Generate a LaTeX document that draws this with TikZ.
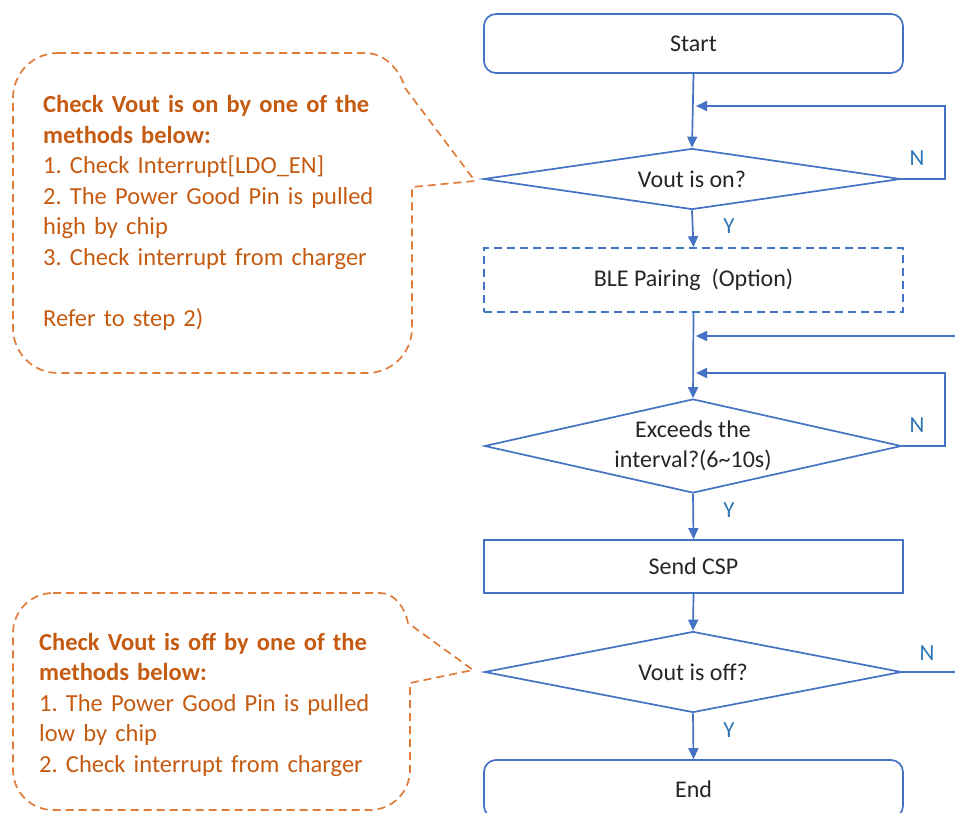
\documentclass[tikz,border=0pt]{standalone}
\usepackage{fontspec}
\setmainfont{Carlito}
\frenchspacing
\usetikzlibrary{arrows.meta,shapes.geometric}
\definecolor{lineblue}{HTML}{4472C4}
\definecolor{ynblue}{HTML}{2E75B6}
\definecolor{ortext}{HTML}{C55A11}
\definecolor{orline}{HTML}{E07B39}
\definecolor{txt}{HTML}{262626}
\begin{document}
\begin{tikzpicture}[x=1pt,y=-1pt,
  flowtext/.style={font=\fontsize{24}{30}\selectfont, text=txt},
  procbox/.style={draw=lineblue, line width=1.7pt, minimum width=419pt, inner sep=0pt, flowtext},
  termbox/.style={procbox, rounded corners=12pt},
  optbox/.style={procbox, dash pattern=on 8pt off 5pt},
  decision/.style={draw=lineblue, line width=1.7pt, diamond, inner sep=0pt, minimum width=417pt},
  ynlabel/.style={font=\fontsize{23}{28}\selectfont, text=ynblue, inner sep=0pt},
  flow/.style={draw=lineblue, line width=1.7pt, -{Triangle[length=11pt,width=10pt]}},
  plainline/.style={draw=lineblue, line width=1.7pt},
  callout/.style={draw=orline, line width=1.7pt, dash pattern=on 8pt off 5pt},
  notetext/.style={font=\fontsize{24.5}{30.5}\selectfont, text=ortext, text width=370pt, align=left, inner sep=0pt, anchor=base west}
]
\useasboundingbox (0,0) rectangle (955,813);
\clip (0,0) rectangle (955,813);

% flow nodes
\node[termbox, minimum height=59pt] (start) at (693.5,43.5) {Start};
\node[decision, minimum height=61pt] (d1) at (692,179) {};
\node[flowtext] (d1t) at (d1.center) {Vout is on?};
\node[optbox, minimum height=64pt] (ble) at (693.5,280) {BLE Pairing~ (Option)};
\node[decision, minimum height=94pt] (d2) at (693,446) {};
\node[flowtext, align=center, inner sep=0pt] (d2t) at (d2.center) {Exceeds the\\interval?(6\textasciitilde10s)};
\node[procbox, minimum height=53pt] (csp) at (693.5,566.5) {Send CSP};
\node[decision, minimum height=81pt] (d3) at (693,672) {};
\node[flowtext] (d3t) at (d3.center) {Vout is off?};
\node[termbox, minimum height=58pt] (end) at (693.5,789) {End};

% labels
\node[ynlabel] (n1) at (917,158) {N};
\node[ynlabel] (y1) at (729,226) {Y};
\node[ynlabel] (n2) at (917,425) {N};
\node[ynlabel] (y2) at (729,510) {Y};
\node[ynlabel] (n3) at (927,653) {N};
\node[ynlabel] (y3) at (729,730) {Y};

% helper coordinates
\coordinate (l1r) at (945,179);
\coordinate (l1t) at (945,106);
\coordinate (l1e) at (696,106);
\coordinate (in2) at (960,336);
\coordinate (in2e) at (696,336);
\coordinate (l2r) at (945,446);
\coordinate (l2t) at (945,373);
\coordinate (l2e) at (696,373);
\coordinate (out3) at (960,672);

% connectors
\draw[flow] (start.south) -- (d1.north);
\draw[flow] (d1.east) -- (l1r) -- (l1t) -- (l1e);
\draw[flow] (d1.south) -- (ble.north);
\draw[flow] (ble.south) -- (d2.north);
\draw[flow] (in2) -- (in2e);
\draw[flow] (d2.east) -- (l2r) -- (l2t) -- (l2e);
\draw[flow] (d2.south) -- (csp.north);
\draw[flow] (csp.south) -- (d3.north);
\draw[plainline] (d3.east) -- (out3);
\draw[flow] (d3.south) -- (end.north);

% callout 1
\draw[callout] (58,53) -- (365,53) .. controls (385,53) and (400,70) .. (405,88)
  -- (475,181) -- (412,187) -- (412,328) .. controls (412,353) and (392,373) .. (367,373)
  -- (58,373) .. controls (33,373) and (13,353) .. (13,328)
  -- (13,98) .. controls (13,73) and (33,53) .. (58,53) -- cycle;
\node[notetext] (note1) at (43,113) {{\bfseries Check Vout is on by one of the\\methods below:}\\1. Check Interrupt[LDO\_EN]\\2. The Power Good Pin is pulled\\high by chip\\3. Check interrupt from charger\\[30.5pt]Refer to step 2)};

% callout 2
\draw[callout] (53,593) -- (380,593) .. controls (395,593) and (405,608) .. (408,623)
  -- (473,670) -- (410,683) -- (410,770) .. controls (410,792) and (392,810) .. (370,810)
  -- (53,810) .. controls (31,810) and (13,792) .. (13,770)
  -- (13,633) .. controls (13,611) and (31,593) .. (53,593) -- cycle;
\node[notetext] (note2) at (39,650) {{\bfseries Check Vout is off by one of the\\methods below:}\\1. The Power Good Pin is pulled\\low by chip\\2. Check interrupt from charger};
\end{tikzpicture}
\end{document}
